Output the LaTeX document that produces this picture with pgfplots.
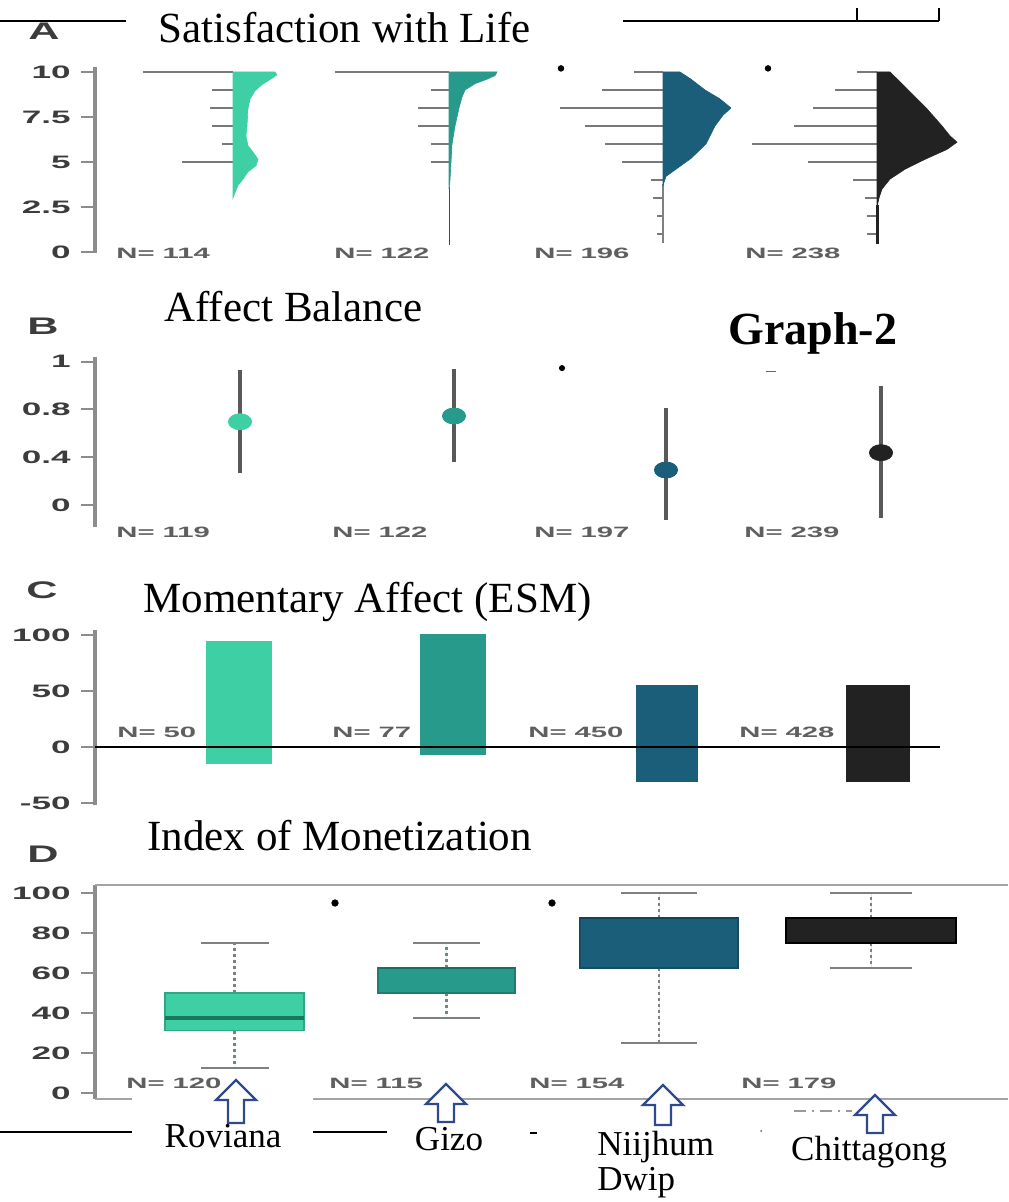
\documentclass[border=0pt]{standalone}
\usepackage{pgfplots}
\pgfplotsset{compat=1.18}
\usepgfplotslibrary{statistics}
\usepackage{fontspec}
\setmainfont{Liberation Serif}
\newfontfamily\arial{Liberation Sans}
\usepackage{graphicx}

\definecolor{cA}{RGB}{62,207,165}
\definecolor{cAm}{RGB}{24,120,90}
\definecolor{cB}{RGB}{40,154,140}
\definecolor{cC}{RGB}{27,94,122}
\definecolor{cD}{RGB}{34,34,34}
\definecolor{spine}{RGB}{140,140,140}
\definecolor{hist}{RGB}{120,120,120}
\definecolor{tl}{RGB}{60,60,60}
\definecolor{nl}{RGB}{95,95,95}
\definecolor{arrowblue}{RGB}{47,74,140}

\newcommand\wide[1]{\scalebox{1.95}[1]{#1}}
\newcommand\tickfont{\arial\bfseries\fontsize{9}{10}\selectfont}
\newcommand\nfont{\arial\bfseries\fontsize{7.5}{9}\selectfont\color{nl}}
\newcommand\titlefont{\fontsize{21.5}{24}\selectfont}
\newcommand\letterfont{\arial\bfseries\fontsize{12}{14}\selectfont\color{tl}}
\newcommand\placefont{\fontsize{17.5}{20}\selectfont}

\pgfplotsset{
  panel/.style={
    scale only axis,
    clip=false,
    xmin=95, xmax=1008,
    width=456.5pt,
    axis x line=none,
    axis y line=left,
    xtick=\empty,
    axis line style={-},
    y axis line style={-, draw=spine, line width=1.6pt},
    ytick style={draw=spine, line width=1pt},
    tick align=outside,
    major tick length=7pt,
    yticklabel style={font=\tickfont, text=tl, inner sep=1pt, xshift=-4pt},
    anchor=south west,
  },
}

\begin{document}
\begin{tikzpicture}
\path[use as bounding box] (0,0) rectangle (504pt,-601pt);

% ---------------- Panel A: Satisfaction with Life ----------------
\begin{axis}[panel, at={(47.5pt,-126.45pt)}, height=92.7pt,
  ymin=-0.05, ymax=10.25,
  ytick={0,2.5,5,7.5,10},
  yticklabels={\wide{0},\wide{2.5},\wide{5},\wide{7.5},\wide{10}}]
% histogram lines (length to the left of each base)
\addplot[draw=none, forget plot, error bars/.cd, x dir=minus, x explicit,
  error mark=none, error bar style={draw=hist, line width=1.1pt}] coordinates {
  (233,10) +- (90,0) (233,9) +- (21,0) (233,8) +- (23,0) (233,7) +- (21,0)
  (233,6) +- (11,0) (233,5) +- (51,0)
  (449,10) +- (114,0) (449,9) +- (18,0) (449,8) +- (31,0) (449,7) +- (31,0)
  (449,6) +- (18,0) (449,5) +- (18,0)
  (663,10) +- (29,0) (663,9) +- (61,0) (663,8) +- (103,0) (663,7) +- (78,0)
  (663,6) +- (58,0) (663,5) +- (41,0) (663,4) +- (12,0) (663,3) +- (10,0)
  (663,2) +- (6,0) (663,1) +- (6,0)
  (877,10) +- (20,0) (877,9) +- (42,0) (877,8) +- (64,0) (877,7) +- (83,0)
  (877,6) +- (125,0) (877,5) +- (69,0) (877,4) +- (24,0) (877,3) +- (12,0)
  (877,2) +- (10,0) (877,1) +- (10,0)
};
% tails
\addplot[cB!60!black, line width=0.5pt] coordinates {(449,0.4) (449,3.6)};
\addplot[gray, line width=0.9pt] coordinates {(663,0.5) (663,3.8)};
\addplot[cD, line width=1.5pt] coordinates {(877,0.45) (877,2.6)};
% half violins
\addplot[fill=cA, draw=cA, line width=0.3pt] coordinates {
  (233,3.0) (235,3.3) (238,3.7) (243,4.05) (248,4.45) (256,4.8) (258,5.15)
  (253,5.55) (248,5.9) (246,6.45) (247,7.0) (248,7.95) (250,8.5) (255,8.95)
  (262,9.3) (272,9.65) (277,9.85) (275,10.0) (233,10.0)} -- cycle;
\addplot[fill=cB, draw=cB, line width=0.3pt] coordinates {
  (449,3.5) (450,4) (451,5) (452,6) (455,7) (459,8) (462,8.6) (465,9)
  (475,9.35) (487,9.6) (495,9.8) (497,10) (449,10)} -- cycle;
\addplot[fill=cC, draw=cC, line width=0.3pt] coordinates {
  (663,3.7) (666,4.2) (676,4.6) (691,5.2) (706,6) (715,7) (723,7.6) (731,8)
  (720,8.5) (705,9) (691,9.6) (680,10) (663,10)} -- cycle;
\addplot[fill=cD, draw=cD, line width=0.3pt] coordinates {
  (877,2.5) (879,3.0) (882,3.5) (890,4.05) (905,4.6) (925,5.15) (947,5.7)
  (957,6.1) (950,6.45) (942,7) (927,7.95) (910,8.9) (890,10) (877,10)} -- cycle;
% outliers
\addplot[only marks, mark=*, mark size=1.4pt, black] coordinates {(561,10.2) (768,10.2)};
\end{axis}

% ---------------- Panel B: Affect Balance ----------------
\begin{axis}[panel, at={(47.5pt,-263.5pt)}, height=84.95pt,
  ymin=-0.184, ymax=1.238,
  ytick={0,0.4,0.8,1.2},
  yticklabels={\wide{0},\wide{0.4},\wide{0.8},\wide{1}}]
\pgfplotsset{bstyle/.style={only marks, mark=*, mark size=4pt,
  mark options={xscale=1.45, fill=#1, draw=#1},
  error bars/.cd, y dir=both, y explicit, error mark=none,
  error bar style={draw=black!65, line width=2pt}}}
\addplot[bstyle=cA] coordinates {(240,0.697) += (0,0.433) -= (0,0.427)};
\addplot[bstyle=cB] coordinates {(454,0.745) += (0,0.39) -= (0,0.385)};
\addplot[bstyle=cC] coordinates {(666,0.293) += (0,0.517) -= (0,0.418)};
\addplot[bstyle=cD] coordinates {(881,0.438) += (0,0.558) -= (0,0.548)};
\addplot[only marks, mark=*, mark size=1.3pt, black] coordinates {(562,1.146)};
\addplot[only marks, mark=-, mark size=2.5pt, black!60] coordinates {(771,1.12)};
\end{axis}

% ---------------- Panel C: Momentary Affect (ESM) ----------------
\begin{axis}[panel, at={(47.5pt,-402.5pt)}, height=87.5pt,
  ymin=-51.8, ymax=104.5,
  ytick={-50,0,50,100},
  yticklabels={\wide{-50},\wide{0},\wide{50},\wide{100}}]
\addplot[fill=cA, draw=none] coordinates {(206,-15) (206,95) (272,95) (272,-15)} -- cycle;
\addplot[fill=cB, draw=none] coordinates {(420,-7) (420,101) (486,101) (486,-7)} -- cycle;
\addplot[fill=cC, draw=none] coordinates {(636,-31) (636,55) (698,55) (698,-31)} -- cycle;
\addplot[fill=cD, draw=none] coordinates {(846,-31) (846,55) (910,55) (910,-31)} -- cycle;
\addplot[black, line width=1pt] coordinates {(95,0) (940,0)};
\end{axis}

% ---------------- Panel D: Index of Monetization ----------------
\begin{axis}[panel, at={(47.5pt,-549.5pt)}, height=107pt,
  ymin=-3, ymax=104,
  ytick={0,20,40,60,80,100},
  yticklabels={\wide{0},\wide{20},\wide{40},\wide{60},\wide{80},\wide{100}},
  boxplot/draw direction=y,
  boxplot/every whisker/.style={draw=gray, dash pattern=on 1.5pt off 1.5pt, line width=1.1pt},
  ]
% whisker caps
\addplot[draw=none, forget plot, error bars/.cd, x dir=both, x explicit,
  error mark=none, error bar style={draw=gray, line width=0.9pt}] coordinates {
  (234.5,75) +- (34,0) (234.5,12.5) +- (34,0)
  (446.5,75) +- (33.5,0) (446.5,37.5) +- (33.5,0)
  (659,100) +- (38,0) (659,25) +- (38,0)
  (871,100) +- (41,0) (871,62.5) +- (41,0)};
\addplot[boxplot prepared={draw position=234.5, box extend=139,
    lower whisker=12.5, lower quartile=31.25, median=37.5,
    upper quartile=50, upper whisker=75, whisker extend=0},
  fill=cA, draw=cA!80!black, line width=0.8pt,
  boxplot/every median/.style={draw=cAm, line width=2.2pt}] coordinates {};
\addplot[boxplot prepared={draw position=446.5, box extend=137,
    lower whisker=37.5, lower quartile=50, median=62.5,
    upper quartile=62.5, upper whisker=75, whisker extend=0},
  fill=cB, draw=cB!80!black, line width=0.8pt,
  boxplot/every median/.style={draw=cB!70!black, line width=1pt}] coordinates {};
\addplot[boxplot prepared={draw position=659, box extend=158,
    lower whisker=25, lower quartile=62.5, median=87.5,
    upper quartile=87.5, upper whisker=100, whisker extend=0},
  fill=cC, draw=cC!80!black, line width=0.8pt,
  boxplot/every median/.style={draw=cC!70!black, line width=1pt}] coordinates {};
\addplot[boxplot prepared={draw position=871, box extend=170,
    lower whisker=62.5, lower quartile=75, median=87.5,
    upper quartile=87.5, upper whisker=100, whisker extend=0},
  fill=cD, draw=black, line width=0.8pt,
  boxplot/every median/.style={draw=black, line width=1pt}] coordinates {};
% outliers
\addplot[only marks, mark=*, mark size=1.6pt, black] coordinates {(335,95) (552,95)};
% frame segments
\draw[spine!80, line width=1pt] (axis cs:95,104) -- (axis cs:1008,104);
\draw[spine!80, line width=1pt] (axis cs:95,-3) -- (axis cs:132,-3);
\draw[spine!80, line width=1pt] (axis cs:313,-3) -- (axis cs:1008,-3);
\end{axis}

% ---------------- annotations (pixel coordinates) ----------------
\begin{scope}[x=0.5pt, y=-0.5pt]
% top rules
\draw[line width=0.9pt] (0,21) -- (126,21);
\draw[line width=0.9pt] (623,21) -- (939,21);
\draw[line width=0.9pt] (857,8) -- (857,21);
\draw[line width=0.9pt] (939,8) -- (939,21);
% titles
\node[anchor=base west, inner sep=0, font=\titlefont] at (158,43) {Satisfaction with Life};
\node[anchor=base west, inner sep=0, font=\titlefont] at (164,322) {Affect Balance};
\node[anchor=base west, inner sep=0, font=\titlefont] at (143,612) {Momentary Affect (ESM)};
\node[anchor=base west, inner sep=0, font=\titlefont] at (147,850) {Index of Monetization};
\node[anchor=base west, inner sep=0, font=\fontsize{23}{26}\selectfont\bfseries] at (728,345) {Graph-2};
% panel letters
\node[anchor=base west, inner sep=0, font=\letterfont] at (28,40) {\scalebox{1.8}[1]{A}};
\node[anchor=base west, inner sep=0, font=\letterfont] at (27,335) {\scalebox{1.8}[1]{B}};
\node[anchor=base west, inner sep=0, font=\letterfont] at (26,598) {\scalebox{1.8}[1]{C}};
\node[anchor=base west, inner sep=0, font=\letterfont] at (27,862) {\scalebox{1.8}[1]{D}};
% N labels
\foreach \x/\t in {116/114, 334/122, 534/196, 745/238}
  \node[anchor=base west, inner sep=0, font=\nfont] at (\x,259) {\wide{N= \t}};
\foreach \x/\t in {116/119, 332/122, 534/197, 744/239}
  \node[anchor=base west, inner sep=0, font=\nfont] at (\x,537) {\wide{N= \t}};
\foreach \x/\t in {117/50, 332/77, 528/450, 739/428}
  \node[anchor=base west, inner sep=0, font=\nfont] at (\x,737) {\wide{N= \t}};
\foreach \x/\t in {126/120, 329/115, 529/154, 741/179}
  \node[anchor=base west, inner sep=0, font=\nfont] at (\x,1088) {\wide{N= \t}};
% bottom rules
\draw[line width=0.9pt] (0,1132) -- (132,1132);
\draw[line width=0.9pt] (313,1132) -- (387,1132);
\draw[line width=0.9pt] (530,1133) -- (537,1133);
\fill[black!60] (761,1131) circle (1);
\draw[black!40, line width=0.8pt, dash pattern=on 6pt off 3pt on 1pt off 3pt] (794,1111) -- (852,1111);
% arrows
\foreach \cx/\ty/\by in {236/1080/1123, 446/1084/1122, 663/1085/1125, 875/1095/1133}
  \draw[arrowblue, line width=1.2pt, fill=white, line join=miter]
    (\cx,\ty) -- ({\cx+20},{\ty+20}) -- ({\cx+8},{\ty+20}) -- ({\cx+8},\by)
    -- ({\cx-8},\by) -- ({\cx-8},{\ty+20}) -- ({\cx-20},{\ty+20}) -- cycle;
% place names
\node[anchor=base, inner sep=0, font=\placefont] at (223,1147) {Roviana};
\node[anchor=base, inner sep=0, font=\placefont] at (449,1150) {Gizo};
\node[anchor=base west, inner sep=0, font=\placefont] at (597,1155) {Niijhum};
\node[anchor=base west, inner sep=0, font=\placefont] at (597,1190) {Dwip};
\node[anchor=base, inner sep=0, font=\placefont] at (869,1160) {Chittagong};
\end{scope}
\end{tikzpicture}
\end{document}
